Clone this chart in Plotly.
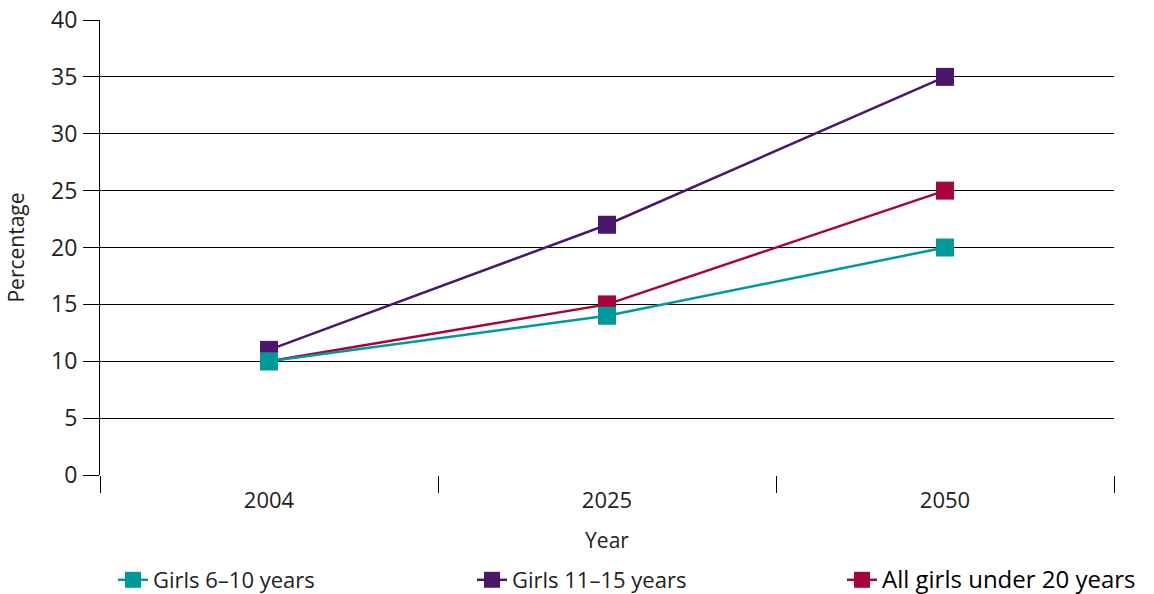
import plotly.graph_objects as go

years = ["2004", "2025", "2050"]
girls_6_10 = [10, 14, 20]
girls_11_15 = [11, 22, 35]
all_under_20 = [10, 15, 25]

series_names = ["Girls 6\u201310 years", "Girls 11\u201315 years", "All girls under 20 years"]
colors = ["#00999a", "#4b176a", "#a6053a"]
legend_ids = ["legend", "legend2", "legend3"]
legend_text_x = [155, 514, 884]  # where each legend text starts (px)

W, H = 1154, 594

fig = go.Figure()
# draw order: purple, red, teal (teal on top)
order = [(1, girls_11_15), (2, all_under_20), (0, girls_6_10)]
for idx, vals in order:
    name = series_names[idx]
    if idx == 2:
        name = "<span style='color:#000;font-size:24px'>" + name + "</span>"
    fig.add_trace(go.Scatter(
        x=years, y=vals, name=name, mode="lines+markers",
        line=dict(color=colors[idx], width=2.5),
        marker=dict(symbol="square", size=18, color=colors[idx]),
        legend=legend_ids[idx],
    ))

legends = {}
for i, lid in enumerate(legend_ids):
    legends[lid] = dict(
        orientation="h", xref="container", yref="container",
        x=(legend_text_x[i] - 42) / W, xanchor="left",
        y=(H - 580) / H, yanchor="middle",
        font=dict(size=22), itemwidth=30, bgcolor="rgba(0,0,0,0)",
    )

fig.update_layout(
    width=W, height=H,
    margin=dict(l=100, r=40, t=20, b=119, autoexpand=False),
    plot_bgcolor="white", paper_bgcolor="white",
    font=dict(family="Open Sans, Noto Sans, sans-serif", color="#222", size=21),
    showlegend=True,
    xaxis=dict(type="category", range=[-0.5, 2.5], tickson="boundaries",
               ticks="outside", ticklen=17, ticklabelstandoff=10,
               tickcolor="black", tickwidth=1, showgrid=False, showline=False,
               zeroline=False, tickfont=dict(size=22), automargin=True,
               title=dict(text="Year", font=dict(size=21), standoff=20)),
    yaxis=dict(range=[0, 40], dtick=5, ticks="outside", ticklen=16, tickcolor="black",
               ticklabelstandoff=1,
               showgrid=True, gridcolor="black", gridwidth=1.2, showline=True,
               linecolor="black", linewidth=1.2, zeroline=False, automargin=False,
               tickfont=dict(size=23),
               title=dict(text="Percentage", font=dict(size=21), standoff=20)),
    **legends,
)

fig.write_html("out.html", config={"displayModeBar": False},
               post_script="document.body.style.margin='0';")
